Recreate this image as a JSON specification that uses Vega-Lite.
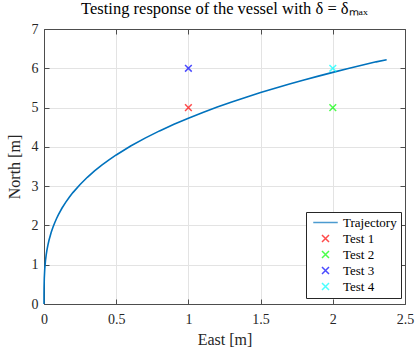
{
  "$schema": "https://vega.github.io/schema/vega-lite/v6.json",
  "width": 361,
  "height": 275,
  "autosize": "none",
  "padding": {"left": 44, "top": 29, "right": 10, "bottom": 49},
  "background": "white",
  "title": {
    "text": "Testing response of the vessel with δ = δₘₐₓ",
    "font": "Liberation Serif, Times New Roman, serif",
    "fontSize": 16.5,
    "fontWeight": "normal",
    "color": "#000000",
    "offset": 5
  },
  "datasets": {
    "traj": [
      {"East": 0, "North": 0, "series": "Trajectory"},
      {"East": 0.0001, "North": 0.254, "series": "Trajectory"},
      {"East": 0.0005, "North": 0.422, "series": "Trajectory"},
      {"East": 0.002, "North": 0.656, "series": "Trajectory"},
      {"East": 0.005, "North": 0.877, "series": "Trajectory"},
      {"East": 0.01, "North": 1.094, "series": "Trajectory"},
      {"East": 0.015, "North": 1.242, "series": "Trajectory"},
      {"East": 0.02, "North": 1.363, "series": "Trajectory"},
      {"East": 0.027, "North": 1.500, "series": "Trajectory"},
      {"East": 0.035, "North": 1.629, "series": "Trajectory"},
      {"East": 0.05, "North": 1.824, "series": "Trajectory"},
      {"East": 0.062, "North": 1.952, "series": "Trajectory"},
      {"East": 0.075, "North": 2.076, "series": "Trajectory"},
      {"East": 0.087, "North": 2.177, "series": "Trajectory"},
      {"East": 0.1, "North": 2.275, "series": "Trajectory"},
      {"East": 0.125, "North": 2.443, "series": "Trajectory"},
      {"East": 0.15, "North": 2.587, "series": "Trajectory"},
      {"East": 0.175, "North": 2.717, "series": "Trajectory"},
      {"East": 0.2, "North": 2.835, "series": "Trajectory"},
      {"East": 0.25, "North": 3.042, "series": "Trajectory"},
      {"East": 0.3, "North": 3.225, "series": "Trajectory"},
      {"East": 0.35, "North": 3.387, "series": "Trajectory"},
      {"East": 0.4, "North": 3.535, "series": "Trajectory"},
      {"East": 0.45, "North": 3.670, "series": "Trajectory"},
      {"East": 0.5, "North": 3.794, "series": "Trajectory"},
      {"East": 0.6, "North": 4.021, "series": "Trajectory"},
      {"East": 0.7, "North": 4.223, "series": "Trajectory"},
      {"East": 0.8, "North": 4.406, "series": "Trajectory"},
      {"East": 0.9, "North": 4.574, "series": "Trajectory"},
      {"East": 1.0, "North": 4.73, "series": "Trajectory"},
      {"East": 1.1, "North": 4.875, "series": "Trajectory"},
      {"East": 1.2, "North": 5.012, "series": "Trajectory"},
      {"East": 1.3, "North": 5.141, "series": "Trajectory"},
      {"East": 1.4, "North": 5.264, "series": "Trajectory"},
      {"East": 1.5, "North": 5.381, "series": "Trajectory"},
      {"East": 1.6, "North": 5.492, "series": "Trajectory"},
      {"East": 1.7, "North": 5.599, "series": "Trajectory"},
      {"East": 1.8, "North": 5.702, "series": "Trajectory"},
      {"East": 1.9, "North": 5.800, "series": "Trajectory"},
      {"East": 2.0, "North": 5.896, "series": "Trajectory"},
      {"East": 2.1, "North": 5.988, "series": "Trajectory"},
      {"East": 2.2, "North": 6.078, "series": "Trajectory"},
      {"East": 2.3, "North": 6.164, "series": "Trajectory"},
      {"East": 2.373, "North": 6.215, "series": "Trajectory"}
    ],
    "tests": [
      {"East": 1, "North": 5, "series": "Test 1"},
      {"East": 2, "North": 5, "series": "Test 2"},
      {"East": 1, "North": 6, "series": "Test 3"},
      {"East": 2, "North": 6, "series": "Test 4"}
    ]
  },
  "config": {
    "view": {"stroke": null},
    "font": "Liberation Serif, Times New Roman, serif",
    "axis": {
      "labelFont": "Liberation Serif, Times New Roman, serif",
      "titleFont": "Liberation Serif, Times New Roman, serif",
      "labelFontSize": 14,
      "titleFontSize": 16,
      "titleFontWeight": "normal",
      "labelColor": "#262626",
      "titleColor": "#262626",
      "domainColor": "#4d4d4d",
      "tickColor": "#4d4d4d",
      "gridColor": "#e3e3e3",
      "gridWidth": 1,
      "tickSize": -5,
      "labelFlush": false
    },
    "legend": {
      "labelFont": "Liberation Serif, Times New Roman, serif",
      "labelFontSize": 13,
      "labelColor": "#000000",
      "strokeColor": "#262626",
      "fillColor": "white",
      "padding": 4,
      "cornerRadius": 0,
      "symbolSize": 49,
      "symbolStrokeWidth": 1.5,
      "symbolOffset": 9,
      "labelOffset": 11,
      "rowPadding": 2
    }
  },
  "resolve": {"axis": {"x": "independent", "y": "independent"}},
  "layer": [
    {
      "data": {"name": "traj"},
      "mark": {"type": "line", "color": "#0072BD", "strokeWidth": 1.6},
      "encoding": {
        "x": {
          "field": "East", "type": "quantitative",
          "scale": {"domain": [0, 2.5], "nice": false, "zero": false},
          "axis": {"title": "East [m]", "values": [0, 0.5, 1, 1.5, 2, 2.5], "format": "~g", "labelPadding": 13, "titleY": 27}
        },
        "y": {
          "field": "North", "type": "quantitative",
          "scale": {"domain": [0, 7], "nice": false},
          "axis": {"title": "North [m]", "values": [0, 1, 2, 3, 4, 5, 6, 7], "labelPadding": 11, "titleX": -22}
        }
      }
    },
    {
      "data": {"name": "tests"},
      "mark": {"type": "point", "filled": false, "strokeWidth": 1.5, "size": 45},
      "encoding": {
        "x": {
          "field": "East", "type": "quantitative",
          "scale": {"domain": [0, 2.5], "nice": false, "zero": false},
          "axis": {"orient": "top", "title": null, "labels": false, "grid": false, "values": [0, 0.5, 1, 1.5, 2, 2.5]}
        },
        "y": {
          "field": "North", "type": "quantitative",
          "scale": {"domain": [0, 7], "nice": false},
          "axis": {"orient": "right", "title": null, "labels": false, "grid": false, "values": [0, 1, 2, 3, 4, 5, 6, 7]}
        },
        "color": {
          "field": "series", "type": "nominal",
          "scale": {
            "domain": ["Trajectory", "Test 1", "Test 2", "Test 3", "Test 4"],
            "range": ["#0072BD", "#ff0000", "#00ff00", "#0000ff", "#00ffff"]
          },
          "legend": {"title": null, "orient": "none", "legendX": 262, "legendY": 183}
        },
        "shape": {
          "field": "series", "type": "nominal",
          "scale": {
            "domain": ["Trajectory", "Test 1", "Test 2", "Test 3", "Test 4"],
            "range": ["M-3.5,0H3.5", "M-1,-1L1,1M-1,1L1,-1", "M-1,-1L1,1M-1,1L1,-1", "M-1,-1L1,1M-1,1L1,-1", "M-1,-1L1,1M-1,1L1,-1"]
          },
          "legend": {"title": null, "orient": "none", "legendX": 262, "legendY": 183}
        }
      }
    }
  ]
}
